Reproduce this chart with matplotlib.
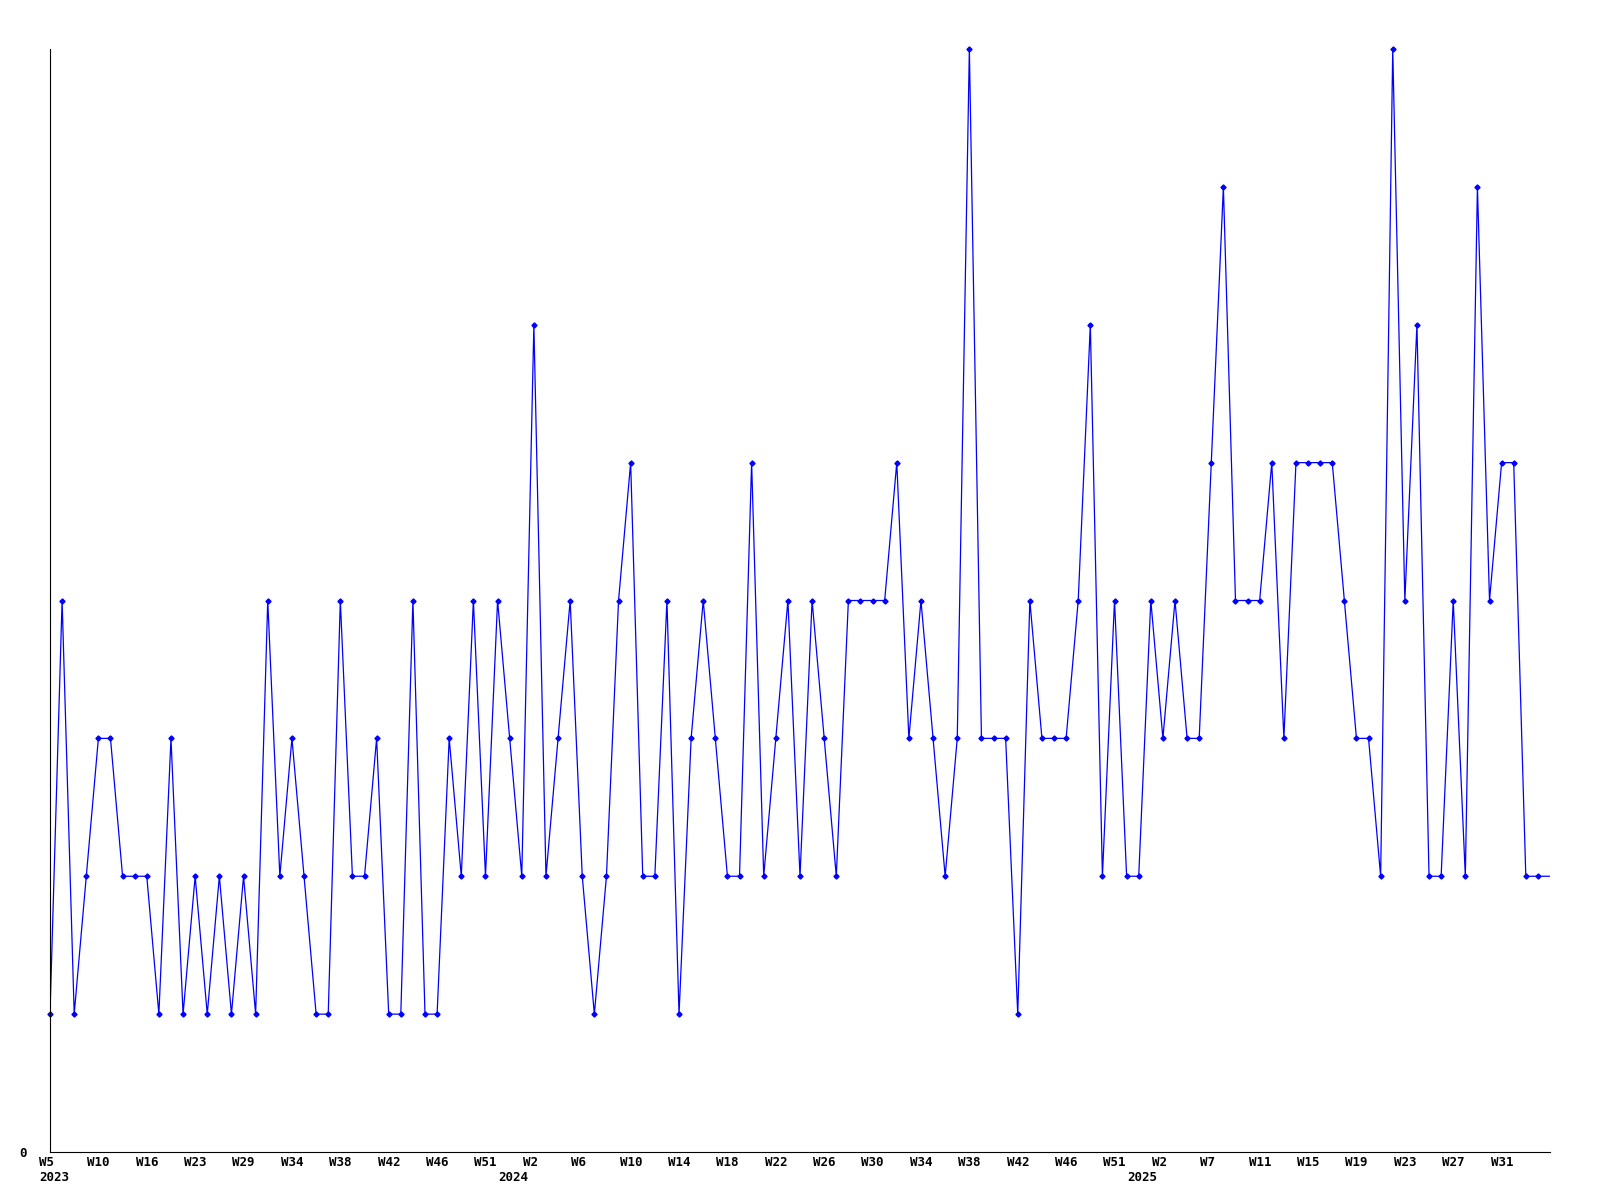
import matplotlib
matplotlib.use('Agg')
import matplotlib.pyplot as plt

# ----------------------------------------------------
# values, one per point (left to right)
# ----------------------------------------------------
counts = [1, 4, 1, 2, 3, 3, 2, 2, 2, 1, 3, 1, 2, 1, 2, 1, 2, 1, 4, 2, 3, 2, 1,
          1, 4, 2, 2, 3, 1, 1, 4, 1, 1, 3, 2, 4, 2, 4, 3, 2, 6, 2, 3, 4,
          2, 1, 2, 4, 5, 2, 2, 4, 1, 3, 4, 3, 2, 2, 5, 2, 3, 4, 2, 4, 3, 2,
          4, 4, 4, 4, 5, 3, 4, 3, 2, 3, 8, 3, 3, 3, 1, 4, 3, 3, 3, 4, 6,
          2, 4, 2, 2, 4, 3, 4, 3, 3, 5, 7, 4, 4, 4, 5, 3, 5, 5, 5, 5, 4, 3,
          3, 2, 8, 4, 6, 2, 2, 4, 2, 7, 4, 5, 5, 2, 2,
          2]

# one week label every 4th point
week_labels = ['W5', 'W10', 'W16', 'W23', 'W29', 'W34', 'W38', 'W42', 'W46', 'W51',
               'W2', 'W6', 'W10', 'W14', 'W18', 'W22', 'W26', 'W30', 'W34', 'W38', 'W42', 'W46', 'W51',
               'W2', 'W7', 'W11', 'W15', 'W19', 'W23', 'W27', 'W31']
label_step = 4

year_labels = ['2023', '2024', '2025']
year_points = [0, 38, 90]

# ---------------------------------------
# plot
# ---------------------------------------
my_dpi = 100
font = dict(family='DejaVu Sans Mono', weight='bold', size=9)

fig = plt.figure(figsize=(1600/my_dpi, 1200/my_dpi), dpi=my_dpi)
ax = fig.add_axes([50/1600, 48/1200, 1500/1600, 1103/1200])

x = list(range(len(counts)))
ax.plot(x, counts, color='#0000ff', linewidth=0.9)
# markers for every point that sits inside the axis (drawn unclipped so the first one is whole)
ax.plot(x[:-1], counts[:-1], linestyle='none', marker='D', markersize=2.6,
        color='#0000ff', clip_on=False)

ax.set_xlim(0, len(counts) - 1)
ax.set_ylim(0, 8)

for side in ['top', 'right']:
    ax.spines[side].set_visible(False)
for side in ['left', 'bottom']:
    ax.spines[side].set_linewidth(0.8)
    ax.spines[side].set_color('black')

ax.set_xticks([])
ax.set_yticks([0])
ax.set_yticklabels(['0'], **font)
ax.tick_params(axis='y', length=0, pad=17)

for i, lab in enumerate(week_labels):
    ax.annotate(lab, xy=(i*label_step, 0), xycoords='data', xytext=(-8, -3),
                textcoords='offset points', ha='left', va='top',
                annotation_clip=False, **font)

for pos, lab in zip(year_points, year_labels):
    ax.annotate(lab, xy=(pos, 0), xycoords='data', xytext=(-8, -14),
                textcoords='offset points', ha='left', va='top',
                annotation_clip=False, **font)

fig.savefig('out.png', dpi=my_dpi)
